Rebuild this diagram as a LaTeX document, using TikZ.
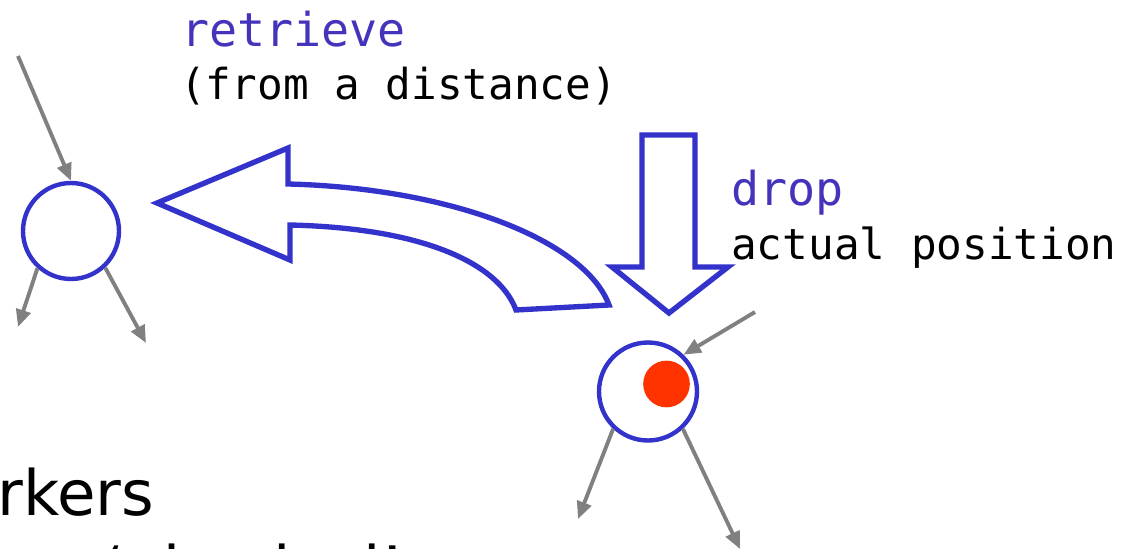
\documentclass[tikz,border=0pt]{standalone}
\usepackage{fontspec}
\setmainfont{DejaVu Sans}
\newfontfamily\monofont{DejaVu Sans Mono}
\usetikzlibrary{arrows.meta}
\definecolor{nodeblue}{RGB}{51,51,204}
\definecolor{labelblue}{RGB}{68,51,187}
\definecolor{edgegray}{RGB}{128,128,128}
\definecolor{dotred}{RGB}{255,51,0}
\begin{document}
\begin{tikzpicture}[x=0.75pt,y=-0.75pt,
  place/.style={circle,draw=nodeblue,line width=3.3pt,fill=white,inner sep=0pt},
  token/.style={circle,fill=dotred,inner sep=0pt,minimum size=35pt},
  edge/.style={draw=edgegray,line width=2.9pt,-{Triangle[length=13pt,width=11pt]}},
  blockarrow/.style={draw=nodeblue,line width=4pt,fill=white,line join=miter},
  lbl/.style={anchor=base west,inner sep=0pt,font=\monofont\fontsize{32}{38}\selectfont},
  ttl/.style={anchor=base west,inner sep=0pt,text=labelblue,font=\monofont\fontsize{35}{42}\selectfont},
  big/.style={anchor=base west,inner sep=0pt,font=\fontsize{47}{56}\selectfont}]
\useasboundingbox (0,0) rectangle (1124,549);
\clip (0,0) rectangle (1124,549);

% places
\node[place,minimum size=72pt] (lc) at (71,231) {};
\node[place,minimum size=73.5pt] (rc) at (648,391.5) {};
\node[token] (tok) at (666.5,384) {};

% free ends of connectors
\coordinate (lin) at (18,56);
\coordinate (lout1) at (18,327);
\coordinate (lout2) at (146,343);
\coordinate (rin) at (755,312);
\coordinate (rout1) at (578,519);
\coordinate (rout2) at (740,549);

\draw[edge] (lin) -- (lc.north);
\draw[edge] (lc.-132) -- (lout1);
\draw[edge] (lc.-47) -- (lout2);
\draw[edge] (rin) -- (rc.46);
\draw[edge] (rc.-133) -- (rout1);
\draw[edge] (rc.-47) -- (rout2);

% curved block arrow (retrieve)
\draw[blockarrow] (157,203) -- (288,148) -- (288,184)
  .. controls (450,188) and (585,240) .. (609,305)
  -- (516,310)
  .. controls (498,262) and (420,228) .. (290,225)
  -- (290,260) -- cycle;

% down block arrow (drop)
\draw[blockarrow] (642,135) -- (695,135) -- (695,267) -- (728,267)
  -- (669,313) -- (612,267) -- (642,267) -- cycle;

% labels
\node[ttl] (retr) at (181,47) {retrieve};
\node[lbl] (dist) at (180,100) {(from a distance)};
\node[ttl] (drop) at (731,205) {drop};
\node[lbl] (pos) at (731,259) {actual position};
\node[big] (mk) at (-3,515) {rkers};
\node[big] (phys) at (104,591) {‘physical’};
\end{tikzpicture}
\end{document}
